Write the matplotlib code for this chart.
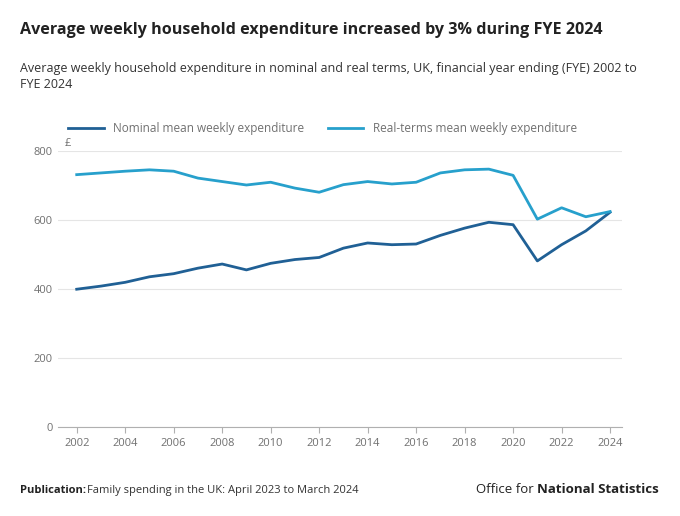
import matplotlib
matplotlib.use("Agg")
import matplotlib.pyplot as plt

years = list(range(2002, 2025))
nominal = [400, 409, 420, 436, 445, 461, 473, 456, 475, 486, 492, 519, 534, 529, 531, 556, 577, 594, 587, 482, 529, 569, 623]
real = [732, 737, 742, 746, 742, 722, 712, 702, 710, 693, 681, 703, 712, 705, 710, 737, 746, 748, 730, 603, 636, 610, 625]
xticks = list(range(2002, 2025, 2))
yticks = [0, 200, 400, 600, 800]

plt.rcParams['font.family'] = ['Open Sans', 'DejaVu Sans']
fig = plt.figure(figsize=(6.8, 5.16), dpi=100)
ax = fig.add_axes([0.085, 0.172, 0.83, 0.535])
ax.plot(years, nominal, color='#206095', lw=2, label='Nominal mean weekly expenditure')
ax.plot(years, real, color='#27a0cc', lw=2, label='Real-terms mean weekly expenditure')
ax.set_xlim(2001.22, 2024.5)
ax.set_ylim(0, 800)
ax.set_xticks(xticks)
ax.set_yticks(yticks)
ax.tick_params(labelsize=8, colors='#707070', length=0)
ax.tick_params(axis='x', length=4, color='#b0b0b0')
ax.grid(axis='y', color='#e5e5e5', lw=0.8)
for s in ['top', 'right', 'left']:
    ax.spines[s].set_visible(False)
ax.spines['bottom'].set_color('#b0b0b0')
ax.set_axisbelow(True)
ax.text(2001.5, 806, '£', fontsize=8, color='#707070', ha='left', va='bottom')
ax.legend(loc='lower left', bbox_to_anchor=(0.0, 1.02), ncol=2, frameon=False,
          fontsize=8.5, labelcolor='#707070', handlelength=3, columnspacing=2)

fig.text(0.03, 0.935, 'Average weekly household expenditure increased by 3% during FYE 2024',
         fontsize=11.6, fontweight='bold', color='#222222')
fig.text(0.03, 0.83, 'Average weekly household expenditure in nominal and real terms, UK, financial year ending (FYE) 2002 to\nFYE 2024',
         fontsize=9, color='#333333', linespacing=1.3)
fig.text(0.03, 0.045, 'Publication:', fontsize=8, fontweight='bold', color='#222222')
fig.text(0.128, 0.045, 'Family spending in the UK: April 2023 to March 2024', fontsize=8, color='#333333')
fig.text(0.7, 0.045, 'Office for ', fontsize=9.5, color='#222222')
fig.text(0.79, 0.045, 'National Statistics', fontsize=9.5, fontweight='bold', color='#222222')
fig.savefig('out.png', dpi=100, facecolor='white')
